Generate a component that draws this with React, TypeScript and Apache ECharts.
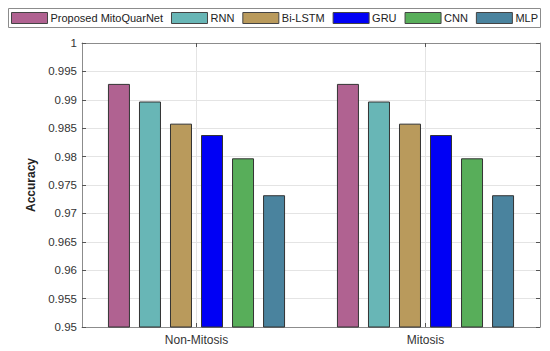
import React, { useEffect, useRef } from "react";
import * as echarts from "echarts";

const categories = ["Non-Mitosis", "Mitosis"];
const seriesNames = ["Proposed MitoQuarNet", "RNN", "Bi-LSTM", "GRU", "CNN", "MLP"];
const seriesColors = ["#B06291", "#68B6B6", "#B99A5C", "#0000F5", "#58AE5A", "#4A839E"];
const proposed = [0.9928, 0.9928];
const rnn = [0.9897, 0.9897];
const biLstm = [0.9858, 0.9858];
const gru = [0.9838, 0.9838];
const cnn = [0.9797, 0.9797];
const mlp = [0.9732, 0.9732];
const seriesValues = [proposed, rnn, biLstm, gru, cnn, mlp];
const topAxisSlots = ["", "Non-Mitosis", "", "Mitosis", ""];

const FONT = "'Liberation Sans', Arial, Helvetica, sans-serif";

export default function App() {
  const ref = useRef<HTMLDivElement>(null);
  useEffect(() => {
    if (!ref.current) return;
    const chart = echarts.init(ref.current, null, { renderer: "svg" });
    const axisLineColor = "#8c8c8c";
    chart.setOption({
      animation: false,
      backgroundColor: "#ffffff",
      textStyle: { fontFamily: FONT },
      graphic: [
        {
          type: "rect",
          shape: { x: 8.5, y: 8.5, width: 532, height: 19 },
          style: { fill: "#ffffff", stroke: "#8c8c8c", lineWidth: 1 },
          z: -1,
        },
      ],
      legend: {
        left: 11,
        top: 12,
        icon: "rect",
        itemWidth: 36,
        itemHeight: 11,
        itemGap: 8,
        padding: 0,
        itemStyle: { borderWidth: 1, borderColor: "#444" },
        textStyle: { fontSize: 11, color: "#222", fontFamily: FONT, padding: [0, 0, 0, -2] },
        data: seriesNames,
      },
      grid: { left: 82, right: 10, top: 43, bottom: 24 },
      xAxis: [
        {
          type: "category",
          data: categories,
          position: "bottom",
          axisLine: { show: true, lineStyle: { color: axisLineColor } },
          axisTick: { show: true, inside: true, alignWithLabel: true, length: 4, lineStyle: { color: "#555" } },
          axisLabel: { fontSize: 12, color: "#333", margin: 7, fontFamily: FONT },
          splitLine: { show: false },
        },
        {
          type: "category",
          data: topAxisSlots,
          position: "top",
          boundaryGap: false,
          axisLine: { show: true, lineStyle: { color: axisLineColor } },
          axisTick: {
            show: true,
            inside: true,
            length: 4,
            interval: (i: number) => i === 1 || i === 3,
            lineStyle: { color: "#555" },
          },
          axisLabel: { show: false },
          splitLine: {
            show: true,
            interval: (i: number) => i === 1 || i === 3,
            lineStyle: { color: "#e4e4e4", width: 1 },
          },
        },
      ],
      yAxis: [
        {
          type: "value",
          min: 0.95,
          max: 1,
          interval: 0.005,
          position: "left",
          name: "Accuracy",
          nameLocation: "middle",
          nameGap: 38,
          nameTextStyle: { fontSize: 12, fontWeight: "bold", color: "#222", fontFamily: FONT },
          axisLine: { show: true, lineStyle: { color: axisLineColor } },
          axisTick: { show: true, inside: true, length: 4, lineStyle: { color: "#555" } },
          axisLabel: {
            fontSize: 11.5,
            color: "#333",
            margin: 5,
            fontFamily: FONT,
            formatter: (v: number) => String(parseFloat(v.toFixed(3))),
          },
          splitLine: { show: true, lineStyle: { color: "#e4e4e4", width: 1 } },
        },
        {
          type: "value",
          min: 0.95,
          max: 1,
          interval: 0.005,
          position: "right",
          axisLine: { show: true, lineStyle: { color: axisLineColor } },
          axisTick: { show: true, inside: true, length: 4, lineStyle: { color: "#555" } },
          axisLabel: { show: false },
          splitLine: { show: false },
        },
      ],
      series: seriesNames.map((name, i) => ({
        name,
        type: "bar",
        xAxisIndex: 0,
        yAxisIndex: 0,
        data: seriesValues[i],
        barWidth: 22,
        barGap: "41%",
        itemStyle: { color: seriesColors[i], borderColor: "#333", borderWidth: 1 },
      })),
    });
    return () => chart.dispose();
  }, []);
  return <div ref={ref} style={{ width: 550, height: 351, position: "absolute", left: 0, top: 0 }} />;
}
